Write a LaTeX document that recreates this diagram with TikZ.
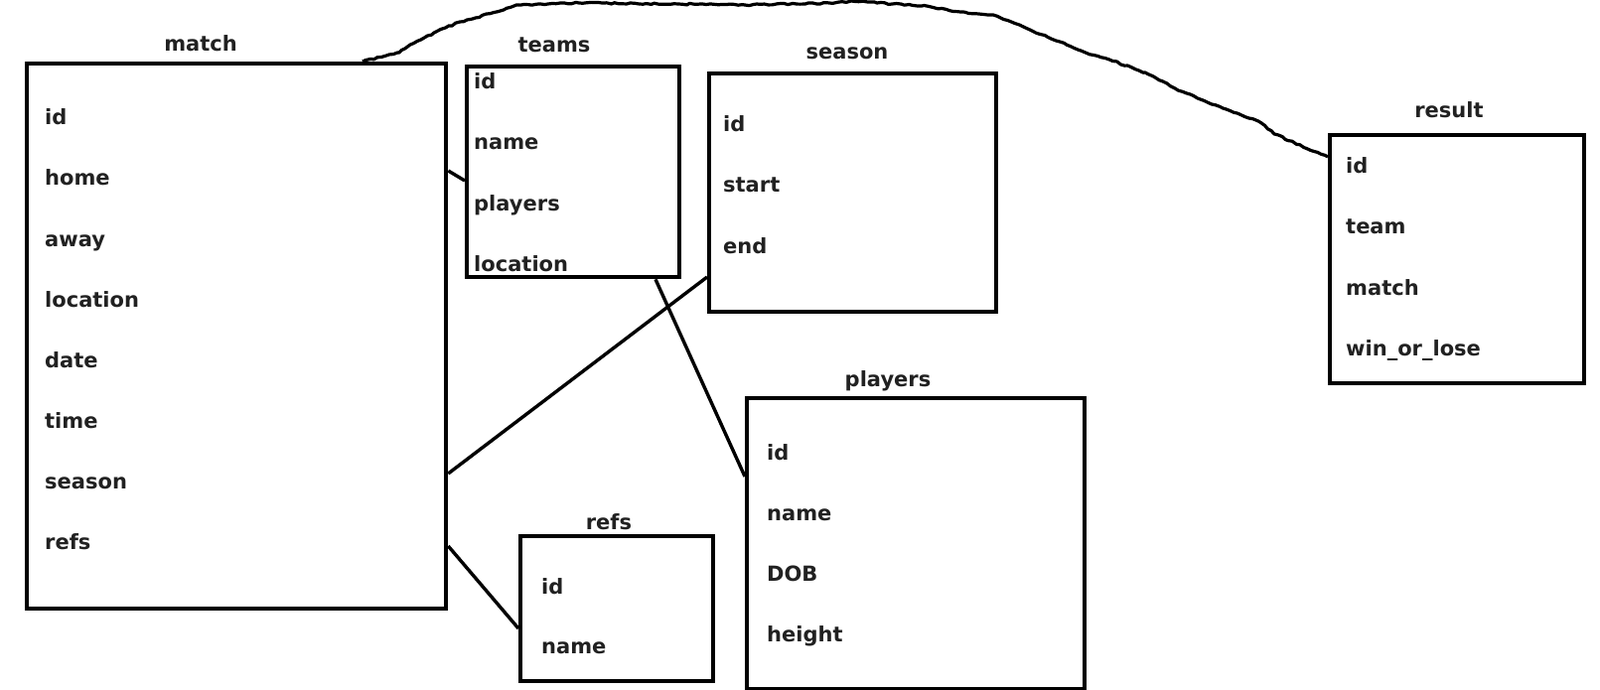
\documentclass[tikz,border=0pt]{standalone}
\usepackage{fontspec}
\setmainfont{DejaVu Sans}
\usetikzlibrary{decorations.pathmorphing}

\tikzset{
    entity/.style={draw, line width=4.3pt, minimum width=#1, inner sep=0pt, anchor=north west},
    title/.style={anchor=base, inner sep=0pt, text=black!87, font=\fontsize{21}{25}\selectfont\bfseries},
    field/.style={anchor=base west, inner sep=0pt, text=black!87, font=\fontsize{21}{25}\selectfont\bfseries},
    link/.style={line width=3.4pt},
    sketch/.style={line width=3.2pt, line join=round, decorate,
        decoration={random steps, segment length=4pt, amplitude=0.8pt}}
}

\begin{document}
\begin{tikzpicture}[x=1pt, y=-1pt]

    % Canvas
    \useasboundingbox (0,0) rectangle (1611,695);

    % Tables
    \node[entity=422pt, minimum height=549pt] (match) at (25,62) {};
    \node[entity=214pt, minimum height=212pt] (teams) at (468,65) {};
    \node[entity=289pt, minimum height=240pt] (season) at (712,72) {};
    \node[entity=256pt, minimum height=250pt] (result) at (1337,134) {};
    \node[entity=340pt, minimum height=293pt] (players) at (750,399) {};
    \node[entity=194pt, minimum height=146pt] (refs) at (522,538) {};

    % Table names
    \node[title] (match-t) at (202,52) {match};
    \node[title] (teams-t) at (558,53) {teams};
    \node[title] (season-t) at (853,60) {season};
    \node[title] (result-t) at (1459,119) {result};
    \node[title] (players-t) at (894,389) {players};
    \node[title] (refs-t) at (613,533) {refs};

    % Columns
    \foreach \f [count=\i from 0] in {id, home, away, location, date, time, season, refs}
        \node[field] (match-f\i) at (45, 126+61*\i) {\f};
    \foreach \f [count=\i from 0] in {id, name, players, location}
        \node[field] (teams-f\i) at (477, 90+61*\i) {\f};
    \foreach \f [count=\i from 0] in {id, start, end}
        \node[field] (season-f\i) at (728, 133+61*\i) {\f};
    \foreach \f [count=\i from 0] in {id, team, match, win\_or\_lose}
        \node[field] (result-f\i) at (1355, 175+61*\i) {\f};
    \foreach \f [count=\i from 0] in {id, name, DOB, height}
        \node[field] (players-f\i) at (772, 463+61*\i) {\f};
    \foreach \f [count=\i from 0] in {id, name}
        \node[field] (refs-f\i) at (545, 598+60*\i) {\f};

    % Relations
    \draw[link] (match.east |- 0,172) -- (teams.west |- 0,182);
    \draw[link] (match.east |- 0,477) -- (season.west |- 0,279);
    \draw[link] (match.east |- 0,550) -- (refs.west |- 0,633);
    \draw[link] (teams.south -| 660,0) -- (players.west |- 0,480);

    % Hand drawn link match -> result
    \draw[sketch] (match.north -| 365,0) -- (402,53) -- (413,45) -- (437,33)
        -- (463,22) -- (507,10) -- (520,5) -- (583,3) -- (683,4) -- (750,5)
        -- (840,3) -- (857,1) -- (883,3) -- (933,6) -- (967,12) -- (1000,15)
        -- (1037,30) -- (1067,42) -- (1093,53) -- (1117,60) -- (1153,73)
        -- (1183,89) -- (1220,105) -- (1267,122) -- (1283,135)
        -- (result.west |- 0,158);

\end{tikzpicture}
\end{document}
